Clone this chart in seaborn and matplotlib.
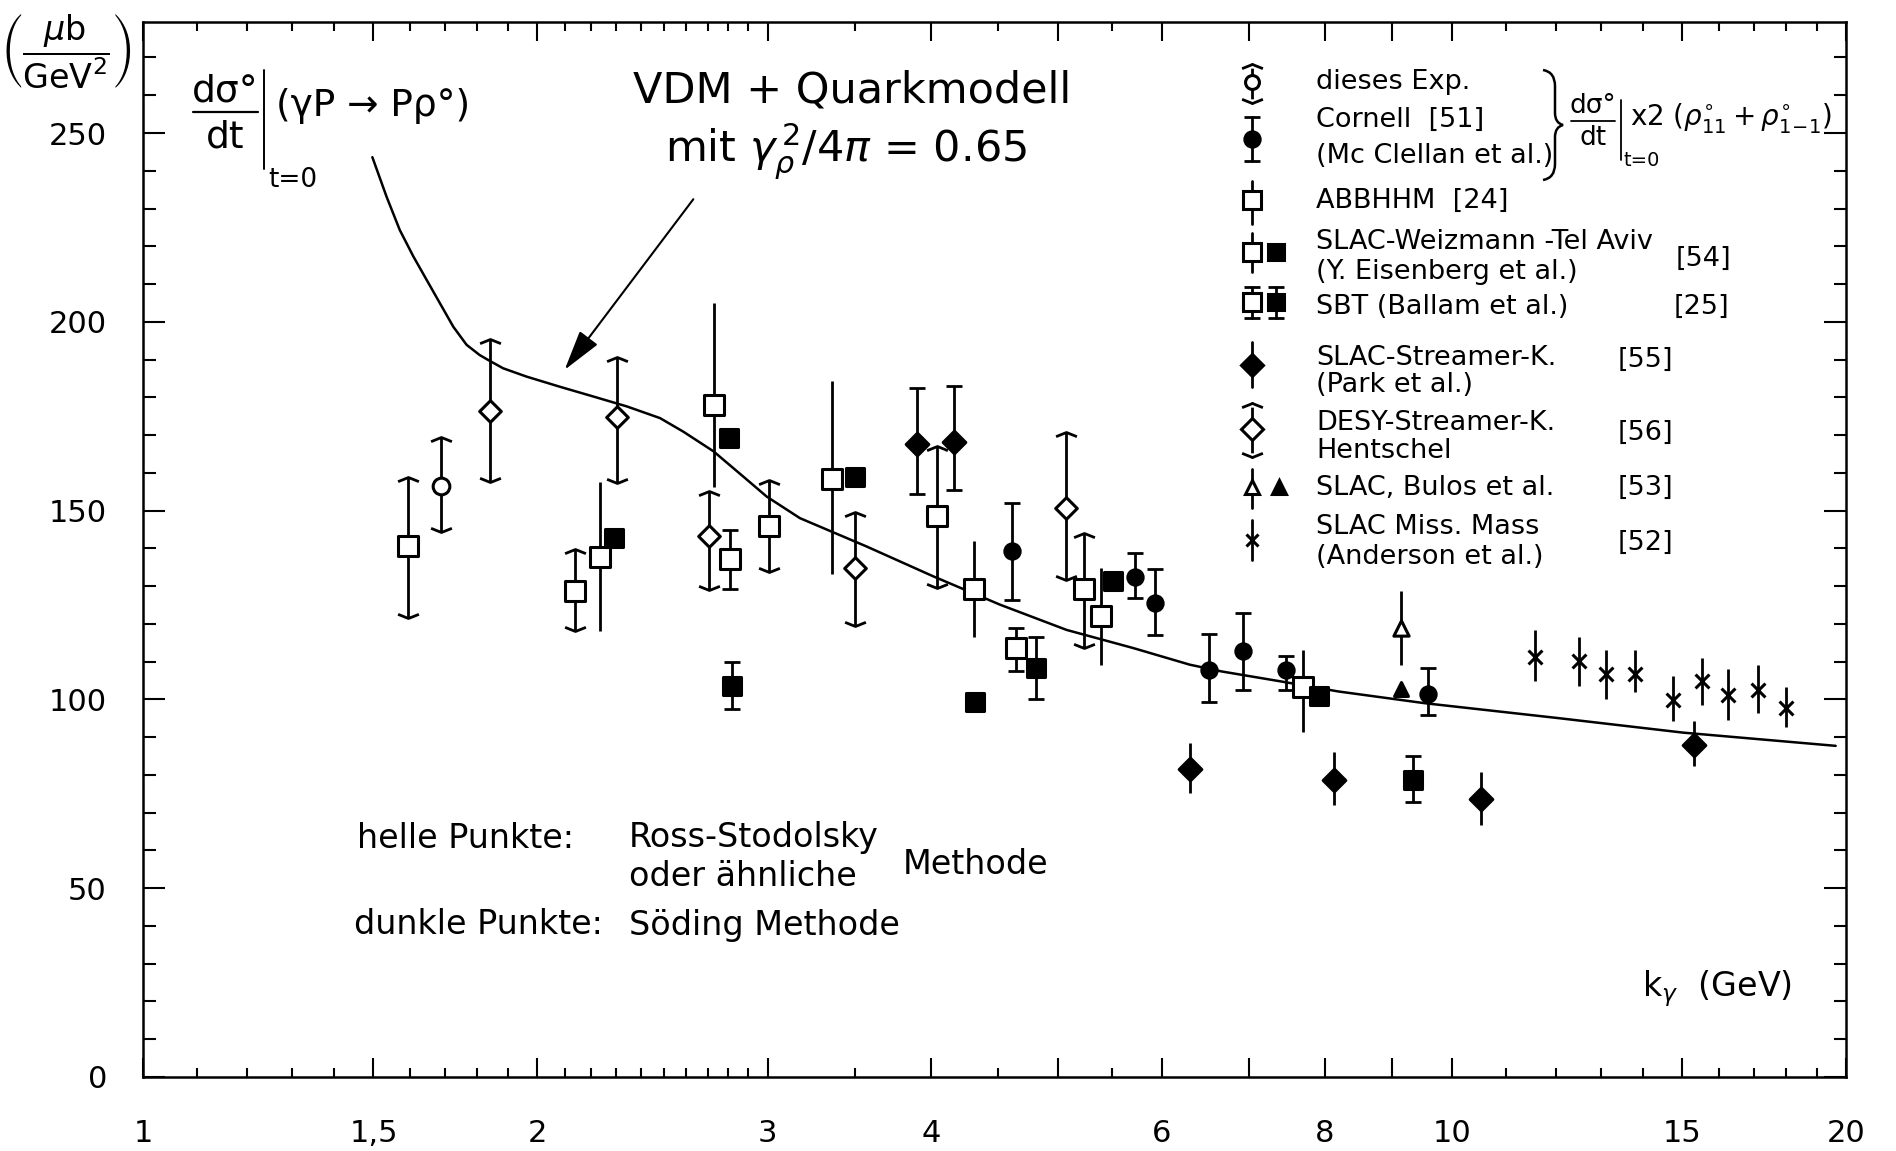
import numpy as np
import matplotlib
matplotlib.use('Agg')
import matplotlib.pyplot as plt
import seaborn as sns
from matplotlib.path import Path
from matplotlib.patches import PathPatch
from matplotlib.ticker import FixedLocator, FixedFormatter, NullFormatter

sns.set_theme(style='ticks', rc={'axes.edgecolor': 'black', 'text.color': 'black',
                                 'xtick.color': 'black', 'ytick.color': 'black'})
plt.rcParams['font.family'] = ['DejaVu Sans']
plt.rcParams['mathtext.fontset'] = 'dejavusans'

# ---- data (k in GeV, dsigma/dt in mub/GeV^2) ----
# dieses Exp. (open circle, limits drawn as arrows)
this_x = [1.69]
this_y = [156.6]
this_lo = [144.4]
this_hi = [169.6]

# Cornell (filled circle, capped bars)
cor_x = [4.61, 5.73, 5.93, 6.52, 6.93, 7.47, 9.59]
cor_y = [139.2, 132.4, 125.5, 107.8, 112.7, 107.7, 101.5]
cor_lo = [126.2, 126.9, 117.1, 99.2, 102.6, 102.4, 95.8]
cor_hi = [152.1, 138.9, 134.6, 117.4, 122.9, 111.6, 108.3]

# ABBHHM / SLAC-Weizmann open squares (plain bars)
abb_x = [2.235, 2.728, 3.358, 4.313, 5.392, 7.69]
abb_y = [137.6, 178.0, 158.4, 129.2, 122.2, 103.4]
abb_lo = [118.0, 156.3, 133.2, 116.5, 109.2, 91.5]
abb_hi = [157.7, 205.0, 184.2, 142.0, 134.8, 113.2]

# open squares with arrow bars
sqa_x = [1.595, 2.139, 3.01, 4.04, 5.233]
sqa_y = [140.5, 128.6, 145.8, 148.7, 129.2]
sqa_lo = [121.5, 118.0, 133.8, 129.5, 113.6]
sqa_hi = [159.0, 139.8, 158.1, 167.0, 144.2]

# SBT open / filled squares (capped bars)
sbt_open_x = [2.809, 4.645]
sbt_open_y = [137.1, 113.6]
sbt_open_lo = [129.2, 107.4]
sbt_open_hi = [144.9, 119.0]
sbt_fill_x = [2.817, 4.815, 9.34]
sbt_fill_y = [103.6, 108.3, 78.7]
sbt_fill_lo = [97.4, 100.1, 72.7]
sbt_fill_hi = [109.9, 116.5, 84.9]

# filled squares without bars
fsq_x = [2.291, 2.804, 3.499, 4.32, 5.51, 7.91]
fsq_y = [142.7, 169.2, 159.0, 99.3, 131.4, 100.8]

# SLAC streamer chamber (filled diamonds)
park_cap_x = [3.904, 4.165]
park_cap_y = [167.6, 168.3]
park_cap_lo = [154.4, 155.5]
park_cap_hi = [182.4, 183.1]
park_x = [6.305, 8.12, 10.53, 15.3]
park_y = [81.6, 78.7, 73.6, 88.0]
park_lo = [75.2, 72.1, 66.8, 82.3]
park_hi = [88.5, 86.0, 80.9, 94.2]

# DESY streamer chamber (open diamonds, arrow bars)
desy_x = [1.842, 2.304, 2.708, 3.50, 5.07]
desy_y = [176.4, 174.7, 143.4, 134.8, 150.8]
desy_lo = [157.7, 157.2, 129.0, 119.5, 131.7]
desy_hi = [195.4, 190.8, 155.3, 149.7, 170.9]

# SLAC Bulos (triangles)
bul_open_x = [9.14]
bul_open_y = [118.9]
bul_open_lo = [109.2]
bul_open_hi = [128.6]
bul_fill_x = [9.15]
bul_fill_y = [102.8]

# SLAC missing mass (crosses)
mm_x = [11.57, 12.5, 13.12, 13.8, 14.76, 15.53, 16.24, 17.13, 17.99]
mm_y = [111.2, 110.1, 106.8, 106.8, 99.9, 104.8, 101.2, 102.4, 97.7]
mm_lo = [104.8, 103.6, 100.2, 101.9, 94.2, 98.6, 94.6, 96.4, 92.8]
mm_hi = [118.4, 116.5, 113.2, 113.0, 106.1, 110.9, 108.0, 109.2, 103.3]

# VDM + quark model curve
vdm_k = [1.497, 1.535, 1.571, 1.609, 1.647, 1.686, 1.726, 1.767, 1.808, 1.835, 1.884,
         1.963, 2.082, 2.209, 2.342, 2.483, 2.587, 2.728, 2.875, 2.996, 3.176, 3.571,
         4.015, 4.515, 5.077, 5.708, 6.305, 6.67, 7.42, 8.19, 9.53, 12.02, 15.02, 19.64]
vdm_y = [243.6, 233.1, 224.3, 217.3, 211.1, 204.9, 198.7, 193.9, 191.2, 189.9, 187.7,
         185.5, 182.8, 180.2, 177.6, 174.5, 170.9, 165.7, 159.0, 153.7, 148.0, 140.5,
         132.6, 125.1, 118.4, 113.6, 109.2, 107.4, 104.7, 102.1, 99.0, 95.1, 91.2, 87.7]

x_ticks = [1, 1.5, 2, 3, 4, 5, 6, 7, 8, 9, 10, 15, 20]
x_labels = ['1', '1,5', '2', '3', '4', '', '6', '', '8', '', '10', '15', '20']
x_minor = [1.1, 1.2, 1.3, 1.4, 1.6, 1.7, 1.8, 1.9, 2.1, 2.2, 2.3, 2.4, 2.5, 2.6,
           2.7, 2.8, 2.9, 3.5, 4.5, 5.5, 11, 12, 13, 14, 16, 17, 18, 19]

# ---- figure ----
W, H = 1896, 1151
fig = plt.figure(figsize=(W / 100, H / 100), dpi=100)
AX_L, AX_R, AX_T, AX_B = 143, 1846, 22, 1077
ax = fig.add_axes([AX_L / W, 1 - AX_B / H, (AX_R - AX_L) / W, (AX_B - AX_T) / H])


def fx(px):
    return (px - AX_L) / (AX_R - AX_L)


def fy(py):
    return (AX_B - py) / (AX_B - AX_T)


UP = Path([(-1, -0.4), (0, 0), (1, -0.4)], [Path.MOVETO, Path.LINETO, Path.LINETO])
DOWN = Path([(-1, 0.4), (0, 0), (1, 0.4)], [Path.MOVETO, Path.LINETO, Path.LINETO])
LW = 2.0


def bars(x, y, lo, hi, cap=0):
    y = np.asarray(y)
    err = [y - np.asarray(lo), np.asarray(hi) - y]
    ax.errorbar(x, y, yerr=err, fmt='none', ecolor='black', elinewidth=LW,
                capsize=cap, capthick=LW, zorder=2)


def arrow_bars(x, lo, hi):
    ax.vlines(x, lo, hi, color='black', lw=LW, zorder=2)
    ax.plot(x, hi, ls='none', marker=UP, ms=15, mfc='none', mec='black', mew=LW, zorder=2)
    ax.plot(x, lo, ls='none', marker=DOWN, ms=15, mfc='none', mec='black', mew=LW, zorder=2)


def points(x, y, marker, size, filled):
    sns.scatterplot(x=x, y=y, marker=marker, s=size ** 2,
                    facecolor='black' if filled else 'white', edgecolor='black',
                    linewidth=2.2, ax=ax, zorder=3, legend=False)


# curve
sns.lineplot(x=vdm_k, y=vdm_y, sort=False, color='black', lw=1.8, ax=ax, zorder=1)

# error bars
arrow_bars(this_x, this_lo, this_hi)
bars(cor_x, cor_y, cor_lo, cor_hi, cap=5.5)
bars(abb_x, abb_y, abb_lo, abb_hi)
arrow_bars(sqa_x, sqa_lo, sqa_hi)
bars(sbt_open_x, sbt_open_y, sbt_open_lo, sbt_open_hi, cap=5.5)
bars(sbt_fill_x, sbt_fill_y, sbt_fill_lo, sbt_fill_hi, cap=5.5)
bars(park_cap_x, park_cap_y, park_cap_lo, park_cap_hi, cap=5.5)
bars(park_x, park_y, park_lo, park_hi)
arrow_bars(desy_x, desy_lo, desy_hi)
bars(bul_open_x, bul_open_y, bul_open_lo, bul_open_hi)
bars(mm_x, mm_y, mm_lo, mm_hi)

# markers
points(this_x, this_y, 'o', 12, False)
points(cor_x, cor_y, 'o', 11, True)
points(abb_x, abb_y, 's', 14, False)
points(sqa_x, sqa_y, 's', 14, False)
points(sbt_open_x, sbt_open_y, 's', 14, False)
points(sbt_fill_x, sbt_fill_y, 's', 13, True)
points(fsq_x, fsq_y, 's', 13, True)
points(park_cap_x, park_cap_y, 'D', 11.5, True)
points(park_x, park_y, 'D', 11.5, True)
points(desy_x, desy_y, 'D', 11, False)
points(bul_open_x, bul_open_y, '^', 11, False)
points(bul_fill_x, bul_fill_y, '^', 10, True)
sns.scatterplot(x=mm_x, y=mm_y, marker='x', s=100, color='black', linewidth=2.2,
                ax=ax, zorder=3, legend=False)

# axes
ax.set_xscale('log')
ax.set_xlim(1, 20)
ax.set_ylim(0, 279.4)
ax.xaxis.set_major_locator(FixedLocator(x_ticks))
ax.xaxis.set_major_formatter(FixedFormatter(x_labels))
ax.xaxis.set_minor_locator(FixedLocator(x_minor))
ax.xaxis.set_minor_formatter(NullFormatter())
ax.set_yticks([0, 50, 100, 150, 200, 250])
ax.set_yticks(np.arange(0, 280, 10), minor=True)
ax.tick_params(axis='both', which='both', direction='in', top=True, right=True,
               width=1.5, labelsize=22)
ax.tick_params(axis='x', which='major', length=14, pad=30)
ax.tick_params(axis='x', which='minor', length=6.5)
ax.tick_params(axis='y', which='major', length=16, pad=26)
ax.tick_params(axis='y', which='minor', length=9)
for s in ax.spines.values():
    s.set_linewidth(1.8)
ax.set_xlabel('')
ax.set_ylabel('')

TA = dict(transform=ax.transAxes, clip_on=False)

# unit label
fig.text(66 / W, 1 - 52 / H, r'$\left(\dfrac{\mu\mathrm{b}}{\mathrm{GeV}^{2}}\right)$',
         fontsize=24, ha='center', va='center')

# top-left formula
ax.text(fx(225), fy(92), 'dσ°', fontsize=27, ha='center', va='center', **TA)
ax.plot([fx(193), fx(258)], [fy(112), fy(112)], color='black', lw=1.6, **TA)
ax.text(fx(225), fy(137), 'dt', fontsize=27, ha='center', va='center', **TA)
ax.plot([fx(264), fx(264)], [fy(70), fy(169)], color='black', lw=1.4, **TA)
ax.text(fx(268), fy(180), 't=0', fontsize=19, ha='left', va='center', **TA)
ax.text(fx(276), fy(106), '(γP → Pρ°)', fontsize=27, ha='left', va='center', **TA)

# model label + arrow
ax.text(fx(852), fy(91), 'VDM + Quarkmodell', fontsize=31, ha='center', va='center', **TA)
ax.text(fx(846), fy(151), r'mit $\gamma_{\rho}^{\,2}/4\pi$ = 0.65', fontsize=31,
        ha='center', va='center', **TA)
ax.annotate('', xy=(fx(563), fy(372)), xytext=(fx(695), fy(197)),
            xycoords='axes fraction', textcoords='axes fraction',
            arrowprops=dict(arrowstyle='-|>,head_length=0.9,head_width=0.25',
                            color='black', lw=1.5, mutation_scale=28))

# legend symbols (reference pixel positions)
SX, SX2 = 1251.5, 1276


def lg_line(px, y1, y2):
    ax.plot([fx(px)] * 2, [fy(y1), fy(y2)], color='black', lw=LW, zorder=2, **TA)


def lg_mark(px, py, marker, ms, filled, mew=2.2):
    ax.plot([fx(px)], [fy(py)], ls='none', marker=marker, ms=ms,
            mfc='black' if filled else 'white', mec='black', mew=mew, zorder=3, **TA)


lg_line(SX, 64, 103)
lg_mark(SX, 64, UP, 15, False, LW)
lg_mark(SX, 103, DOWN, 15, False, LW)
lg_mark(SX, 82, 'o', 10, False)

lg_line(SX, 117, 161)
lg_mark(SX, 117, '_', 11, False, LW)
lg_mark(SX, 161, '_', 11, False, LW)
lg_mark(SX, 139, 'o', 11, True)

lg_line(SX, 181, 224)
lg_mark(SX, 200, 's', 13, False)

lg_line(SX, 233, 272)
lg_mark(SX, 251.5, 's', 13, False)
lg_mark(SX2, 251.5, 's', 12, True)

for px in (SX, SX2):
    lg_line(px, 287, 318)
    lg_mark(px, 287, '_', 11, False, LW)
    lg_mark(px, 318, '_', 11, False, LW)
lg_mark(SX, 302, 's', 13, False)
lg_mark(SX2, 302, 's', 12, True)

lg_line(SX, 342, 387)
lg_mark(SX, 365, 'D', 11, True)

lg_line(SX, 403, 457)
lg_mark(SX, 403, UP, 15, False, LW)
lg_mark(SX, 457, DOWN, 15, False, LW)
lg_mark(SX, 429, 'D', 11, False)

lg_line(SX, 469, 508)
lg_mark(SX, 487, '^', 10, False)
lg_mark(1279, 487, '^', 10, True)

lg_line(SX, 520, 560)
ax.plot([fx(SX)], [fy(540)], ls='none', marker='x', ms=9, mec='black', mew=2.2, **TA)

# legend texts
LX = 1316
FS_L = 19.5
legend_rows = [
    ('dieses Exp.', 82), ('Cornell  [51]', 120), ('(Mc Clellan et al.)', 156),
    ('ABBHHM  [24]', 201), ('SLAC-Weizmann -Tel Aviv', 242), ('(Y. Eisenberg et al.)', 272),
    ('SBT (Ballam et al.)', 307), ('SLAC-Streamer-K.', 358), ('(Park et al.)', 385),
    ('DESY-Streamer-K.', 423), ('Hentschel', 451), ('SLAC, Bulos et al.', 488),
    ('SLAC Miss. Mass', 527), ('(Anderson et al.)', 557),
]
for txt, py in legend_rows:
    ax.text(fx(LX), fy(py), txt, fontsize=FS_L, ha='left', va='center', **TA)
for txt, px, py in [('[54]', 1703, 259), ('[25]', 1701, 307), ('[55]', 1645, 360),
                    ('[56]', 1645, 433), ('[53]', 1645, 488), ('[52]', 1645, 543)]:
    ax.text(fx(px), fy(py), txt, fontsize=FS_L, ha='center', va='center', **TA)

# brace and polarisation factor
bx, by0, by1 = 1543, 70, 180
bm = (by0 + by1) / 2
brace = Path([(bx, by0), (bx + 12, by0 + 2), (bx + 12, by0 + 16),
              (bx + 12, bm - 12), (bx + 12, bm - 2), (bx + 20, bm),
              (bx + 12, bm + 2), (bx + 12, bm + 12),
              (bx + 12, by1 - 16), (bx + 12, by1 - 2), (bx, by1)],
             [Path.MOVETO, Path.CURVE3, Path.CURVE3, Path.LINETO, Path.CURVE3, Path.CURVE3,
              Path.CURVE3, Path.CURVE3, Path.LINETO, Path.CURVE3, Path.CURVE3])
brace_axes = Path([(fx(px), fy(py)) for px, py in brace.vertices], brace.codes)
ax.add_patch(PathPatch(brace_axes, fill=False, lw=1.8, edgecolor='black',
                       transform=ax.transAxes, clip_on=False))
ax.text(fx(1593), fy(106), 'dσ°', fontsize=19, ha='center', va='center', **TA)
ax.plot([fx(1571), fx(1615)], [fy(121), fy(121)], color='black', lw=1.3, **TA)
ax.text(fx(1593), fy(138), 'dt', fontsize=19, ha='center', va='center', **TA)
ax.plot([fx(1621), fx(1621)], [fy(100), fy(160)], color='black', lw=1.3, **TA)
ax.text(fx(1624), fy(160), 't=0', fontsize=14, ha='left', va='center', **TA)
ax.text(fx(1630), fy(118), r'x2 $(\rho^{\circ}_{11}+\rho^{\circ}_{1\!-\!1})$', fontsize=20,
        ha='left', va='center', **TA)

# method notes
FS_N = 24
ax.text(fx(357), fy(838), 'helle Punkte:', fontsize=FS_N, ha='left', va='center', **TA)
ax.text(fx(629), fy(838), 'Ross-Stodolsky', fontsize=FS_N, ha='left', va='center', **TA)
ax.text(fx(629), fy(877), 'oder ähnliche', fontsize=FS_N, ha='left', va='center', **TA)
ax.text(fx(903), fy(865), 'Methode', fontsize=FS_N, ha='left', va='center', **TA)
ax.text(fx(354), fy(925), 'dunkle Punkte:', fontsize=FS_N, ha='left', va='center', **TA)
ax.text(fx(629), fy(925), 'Söding Methode', fontsize=FS_N, ha='left', va='center', **TA)
ax.text(fx(1642), fy(989), r'k$_{\gamma}$  (GeV)', fontsize=FS_N, ha='left', va='center', **TA)

fig.savefig('out.png', dpi=100)
